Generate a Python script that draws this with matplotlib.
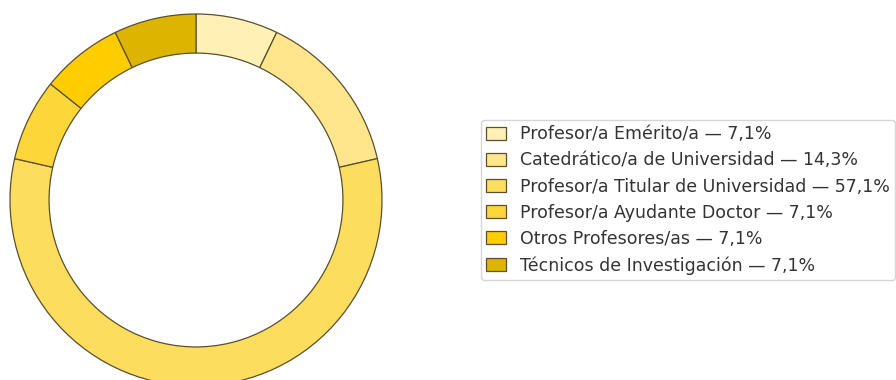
import matplotlib.pyplot as plt

categories = ['Profesor/a Emérito/a', 'Catedrático/a de Universidad',
              'Profesor/a Titular de Universidad', 'Profesor/a Ayudante Doctor',
              'Otros Profesores/as', 'Técnicos de Investigación']
counts = [1, 2, 8, 1, 1, 1]
colors = ['#FFF0B5', '#FFE68C', '#FCDD5E', '#FDD63A', '#FFCC00', '#DDB400']

total = sum(counts)
labels = [f"{c} — {100 * n / total:.1f}%".replace('.', ',') for c, n in zip(categories, counts)]

fig = plt.figure(figsize=(8.96, 3.8), dpi=100)
ax = fig.add_axes([0, 0, 1, 1])

wedges, _ = ax.pie(counts, colors=colors, startangle=90, counterclock=False,
                   radius=1, wedgeprops=dict(width=0.21, edgecolor='#5a5030', linewidth=0.9))

# pixel scale: radius 186 px, centre at (196, 200) from top-left
s = 186
ax.set_aspect('auto')
ax.set_xlim(-196 / s, (896 - 196) / s)
ax.set_ylim(-(380 - 200) / s, 200 / s)
ax.axis('off')

leg = fig.legend(wedges, labels, loc='upper left', bbox_to_anchor=(481 / 896, 1 - 120 / 380),
                 bbox_transform=fig.transFigure, borderaxespad=0, fontsize=12.5, frameon=True,
                 handlelength=1.15, handleheight=0.8, handletextpad=0.8, labelspacing=0.47,
                 borderpad=0.3)
for t in leg.get_texts():
    t.set_color('#333333')

fig.savefig('out.png', dpi=100)
